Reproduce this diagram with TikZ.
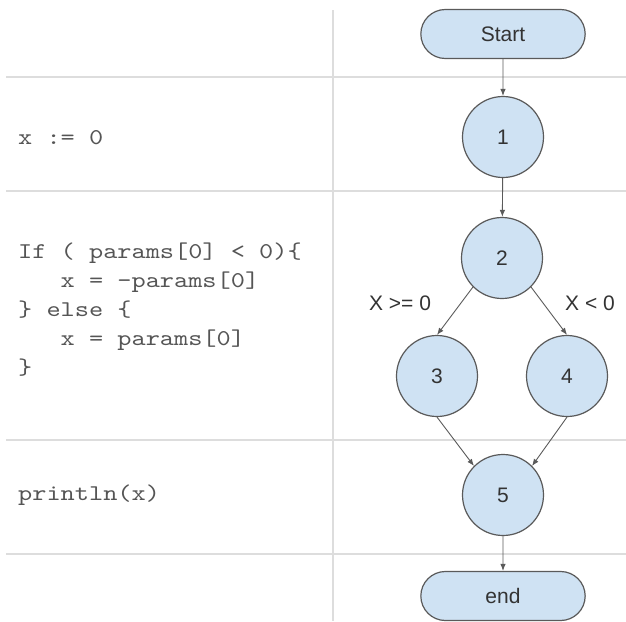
\documentclass[tikz,border=0pt]{standalone}
\usepackage{fontspec}
\setmainfont{Liberation Sans}
\newfontfamily\codefont{lmmono10-regular.otf}[FakeStretch=1.2]
\usetikzlibrary{shapes.misc,arrows.meta}
\definecolor{nodefill}{HTML}{CFE2F3}
\definecolor{nodeline}{HTML}{5A5A5A}
\definecolor{gridline}{HTML}{DDDDDD}
\definecolor{inktext}{HTML}{333333}
\definecolor{codetext}{HTML}{555555}
\begin{document}
\begin{tikzpicture}[x=1pt,y=-1pt,
  stadium/.style={rounded rectangle, draw=nodeline, fill=nodefill, line width=1.2pt,
    minimum width=171pt, minimum height=49pt, text=inktext,
    font=\fontsize{21}{25}\selectfont},
  blockcircle/.style={circle, draw=nodeline, fill=nodefill, line width=1.2pt,
    minimum size=81pt, inner sep=0pt, text=inktext, font=\fontsize{21}{25}\selectfont},
  flow/.style={draw=nodeline, line width=0.9pt, -{Latex[length=7pt,width=5.5pt]}},
  rule/.style={draw=gridline, line width=1.6pt},
  edgelabel/.style={text=inktext, font=\fontsize{21}{25}\selectfont, inner sep=0pt},
  code/.style={anchor=west, align=left, text=codetext, inner sep=0pt,
    font=\codefont\fontsize{22.5}{29}\selectfont}
]
\useasboundingbox (0,0) rectangle (626,621);

% table rules
\draw[rule] (333,10) -- (333,621);
\draw[rule] (6,77) -- (626,77);
\draw[rule] (6,191) -- (626,191);
\draw[rule] (6,440) -- (626,440);
\draw[rule] (6,554) -- (626,554);

% source code column
\node[code] (c1) at (18,138) {x := 0};
\node[code] (c2) at (18,310) {If ( params[0] < 0)\{\\
\ \ \ x = -params[0]\\
\} else \{\\
\ \ \ x = params[0]\\
\}};
\node[code] (c3) at (18,495) {println(x)};

% control flow graph
\node[stadium] (start) at (503,34) {Start};
\node[blockcircle] (n1) at (503,137) {1};
\node[blockcircle] (n2) at (502,258) {2};
\node[blockcircle] (n3) at (437,376) {3};
\node[blockcircle] (n4) at (567,376) {4};
\node[blockcircle] (n5) at (503,495) {5};
\node[stadium] (end) at (503,596) {end};

\draw[flow] (start) -- (n1);
\draw[flow] (n1) -- (n2);
\draw[flow] (n2.south west) -- (n3.north);
\draw[flow] (n2.south east) -- (n4.north);
\draw[flow] (n3.south) -- (n5.north west);
\draw[flow] (n4.south) -- (n5.north east);
\draw[flow] (n5) -- (end);

\node[edgelabel] (lge) at (400,303) {X >= 0};
\node[edgelabel] (llt) at (590,303) {X < 0};
\end{tikzpicture}
\end{document}
